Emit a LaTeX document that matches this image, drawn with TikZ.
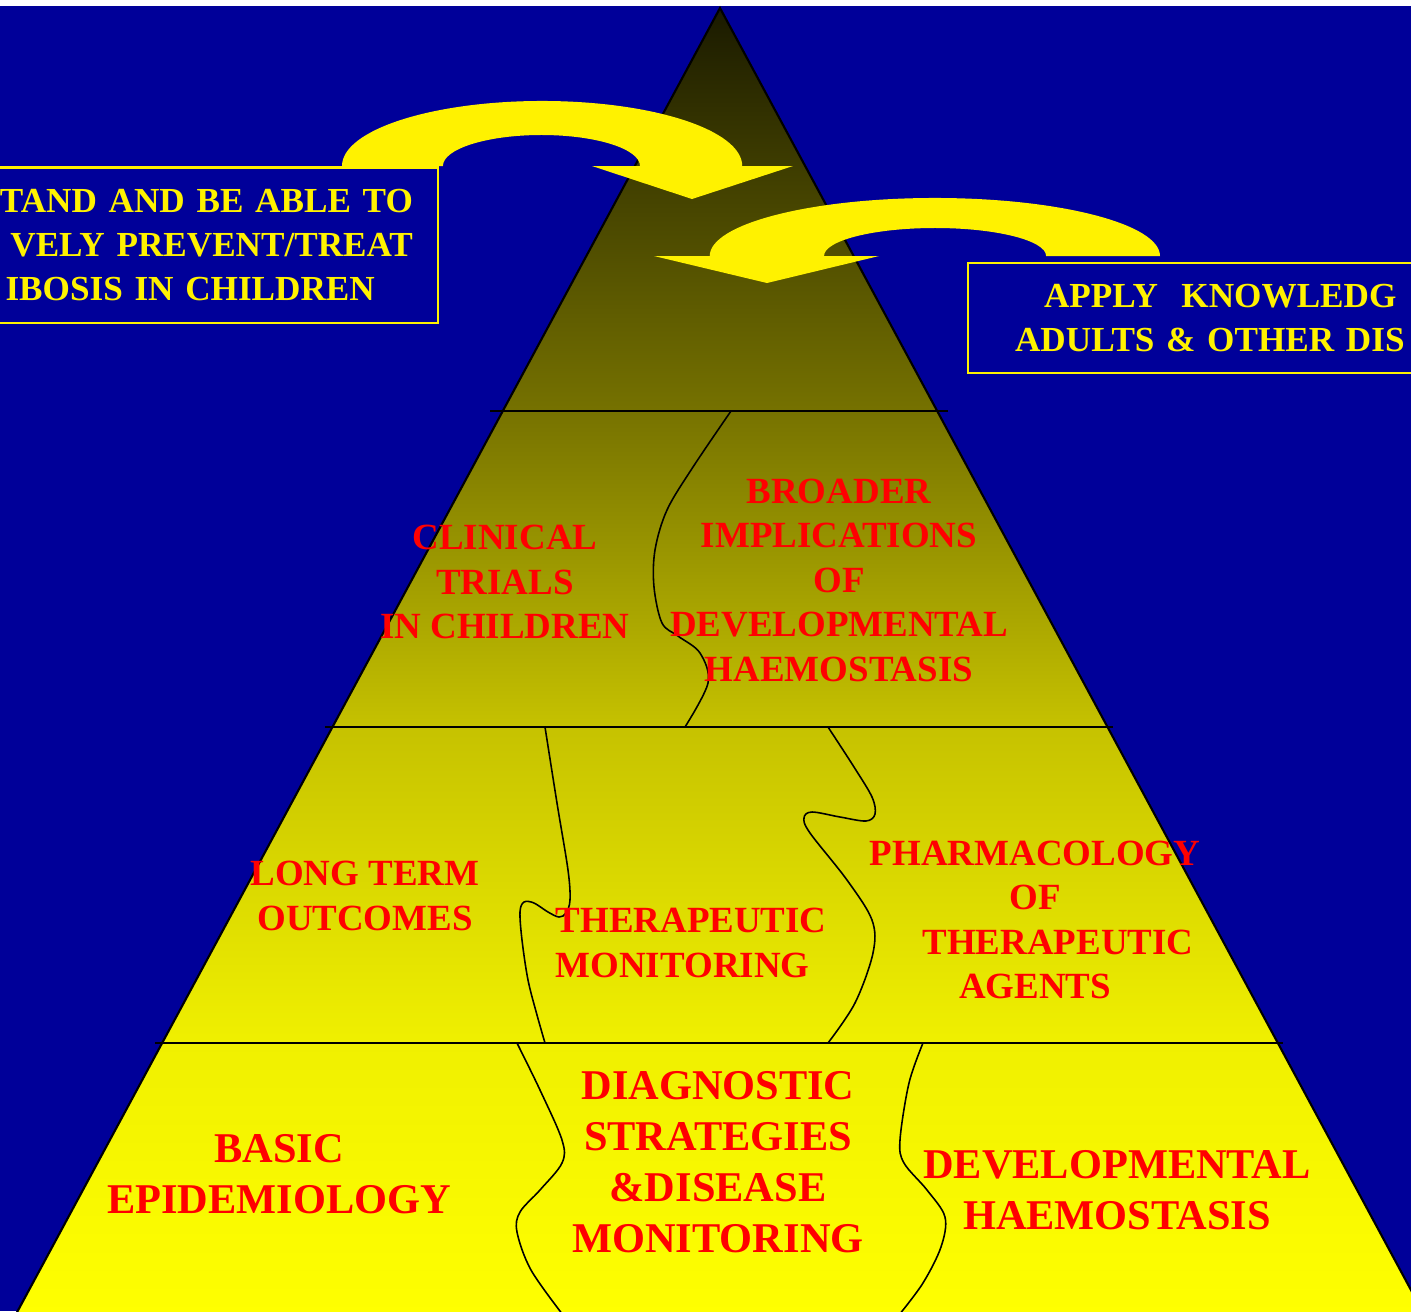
\documentclass[tikz,border=0pt]{standalone}
\usepackage{fontspec}
\setmainfont{Liberation Serif}
\usepackage{tikz}
\definecolor{slideblue}{HTML}{000099}
\definecolor{pyrtop}{HTML}{1A1A00}
\definecolor{pyrA}{HTML}{767200}
\definecolor{pyrB}{HTML}{C6C200}
\definecolor{pyrC}{HTML}{F0F000}
\definecolor{pyrbase}{HTML}{FFFF00}
\definecolor{lblred}{HTML}{FF0000}
\tikzset{
  tierlbl/.style={align=center, inner sep=0pt, text=lblred, font=\bfseries\fontsize{10.5}{12.65}\selectfont},
  baselbl/.style={align=center, inner sep=0pt, text=lblred, font=\bfseries\fontsize{12.05}{14.5}\selectfont},
  goalbox/.style={rectangle, draw=yellow, line width=0.6pt, text=yellow, inner ysep=0pt,
                  font=\bfseries\fontsize{10}{12.4}\selectfont},
  divider/.style={draw=black, line width=0.45pt},
  tierline/.style={draw=black, line width=0.7pt},
  bendarrow/.style={fill=yellow},
}

\begin{document}
\begin{tikzpicture}[x=0.01cm, y=-0.01cm]
\useasboundingbox (0,0) rectangle (1411,1311);
\clip (0,0) rectangle (1411,1311);
\fill[slideblue] (0,6) rectangle (1411,1311);
\begin{scope}
\clip (720,8) -- (15,1316) -- (1425,1316) -- cycle;
\shade[top color=pyrtop, bottom color=pyrA] (0,8) rectangle (1411,412);
\shade[top color=pyrA, bottom color=pyrB] (0,410) rectangle (1411,728);
\shade[top color=pyrB, bottom color=pyrC] (0,726) rectangle (1411,1044);
\shade[top color=pyrC, bottom color=pyrbase] (0,1042) rectangle (1411,1316);
\end{scope}
\draw[line width=0.6pt] (720,8) -- (15,1316) -- (1425,1316) -- cycle;
\draw[tierline] (490,411) -- (948,411);
\draw[tierline] (325,727) -- (1113,727);
\draw[tierline] (155,1043) -- (1283,1043);
\draw[divider] plot[smooth, tension=0.55] coordinates {(731,411) (693,467) (667,510) (655,550) (654,587) (662,623) (678,636) (700,653) (708,683) (685,727)};
\draw[divider] plot[smooth, tension=0.55] coordinates {(545,727) (557,803) (568,870) (570,900) (566,913) (559,917) (548,912) (534,903) (524,902) (520,912) (522,940) (528,980) (537,1015) (545,1043)};
\draw[divider] plot[smooth, tension=0.55] coordinates {(828,727) (854,767) (872,797) (875,814) (866,821) (840,817) (812,812) (804,818) (810,833) (847,880) (872,920) (873,953) (855,1003) (828,1043)};
\draw[divider] plot[smooth, tension=0.55] coordinates {(517,1043) (540,1090) (562,1140) (562,1163) (540,1190) (520,1212) (517,1232) (531,1270) (563,1315)};
\draw[divider] plot[smooth, tension=0.55] coordinates {(923,1043) (909,1083) (900,1140) (904,1163) (927,1190) (945,1217) (941,1247) (923,1283) (899,1315)};
\node[tierlbl] (trials) at (505,582) {CLINICAL\\TRIALS\\IN CHILDREN};
\node[tierlbl] (broader) at (839,580) {BROADER\\IMPLICATIONS\\OF\\DEVELOPMENTAL\\HAEMOSTASIS};
\node[tierlbl] (outcomes) at (365,896) {LONG TERM\\OUTCOMES};
\node[tierlbl, align=left, anchor=west] (monitor) at (555,943) {THERAPEUTIC\\MONITORING};
\node[tierlbl] (pharma) at (1035,920) {PHARMACOLOGY\\OF\\\hspace*{0.46cm}THERAPEUTIC\\AGENTS};
\node[baselbl] (epidem) at (279,1174) {BASIC\\EPIDEMIOLOGY};
\node[baselbl] (diagnostic) at (718,1162) {DIAGNOSTIC\\STRATEGIES\\\&DISEASE\\MONITORING};
\node[baselbl] (devhaem) at (1117,1190) {DEVELOPMENTAL\\HAEMOSTASIS};
\node[goalbox, anchor=east, inner xsep=0.25cm, text width=4.8cm, align=right, minimum height=1.55cm] (goalL) at (439,245) {TAND AND BE ABLE TO\\VELY PREVENT/TREAT\\IBOSIS IN CHILDREN\kern0.38cm};
\node[goalbox, anchor=west, inner xsep=0.47cm, text width=4.3cm, align=left, minimum height=1.1cm] (goalR) at (967,318) {\hspace*{0.29cm}APPLY~ KNOWLEDG\\ADULTS \& OTHER DIS};
\fill[bendarrow] (342,166) arc[start angle=180, end angle=0, x radius=2cm, y radius=0.65cm] -- (793,166) -- (692,199) -- (592,166) -- (640,166) arc[start angle=0, end angle=180, x radius=0.985cm, y radius=0.31cm] -- cycle;
\fill[bendarrow] (1160,256) arc[start angle=0, end angle=180, x radius=2.25cm, y radius=0.58cm] -- (654,256) -- (767,283) -- (879,256) -- (824,256) arc[start angle=180, end angle=0, x radius=1.11cm, y radius=0.28cm] -- cycle;
\end{tikzpicture}
\end{document}
